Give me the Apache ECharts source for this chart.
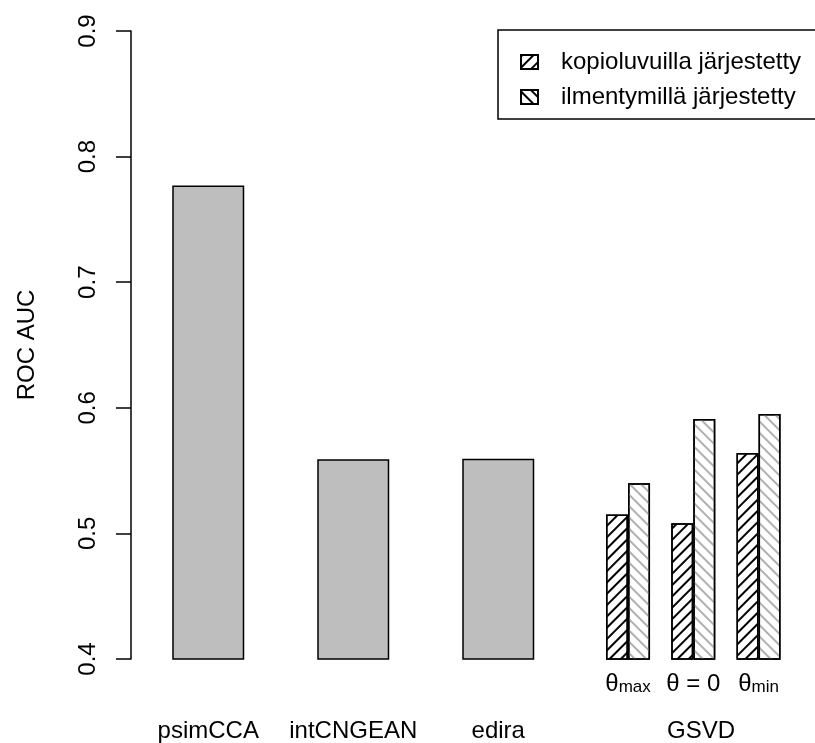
<!DOCTYPE html>
<html><head><meta charset="utf-8">
<script src="https://cdn.jsdelivr.net/npm/echarts@6/dist/echarts.min.js"></script>
<style>html,body{margin:0;padding:0;background:#fff}#c{width:815px;height:743px}</style>
</head><body><div id="c"></div>
<script>
// ---- data ----
const categories = ['psimCCA', 'intCNGEAN', 'edira'];
const values = [0.777, 0.559, 0.5595];
const gsvdGroups = ['max', '= 0', 'min'];
const gsvdCopy = [0.515, 0.508, 0.564];   // kopioluvuilla järjestetty
const gsvdExpr = [0.540, 0.591, 0.595];   // ilmentymillä järjestetty
const seriesNames = ['kopioluvuilla järjestetty', 'ilmentymillä järjestetty'];
const groupLabel = 'GSVD';
const yTicks = [0.4, 0.5, 0.6, 0.7, 0.8, 0.9];
const yTitle = 'ROC AUC';

// ---- layout (x positions in barplot units) ----
const mainPos = [1.5, 3.5, 5.5];
const gsvdCenters = [7.29, 8.19, 9.09];
const halfW = 0.152;
const gsvdLabelPos = 8.297;
const XMIN = 0.4345, XMAX = 9.869;

const FONT = "'Liberation Sans', Arial, sans-serif";
const chart = echarts.init(document.getElementById('c'));

const hatch = (color, rot) => ({
  symbol: 'rect', symbolSize: 1, color: color,
  dashArrayX: [1, 0], dashArrayY: [1.5, 6], rotation: rot
});
const hatchA = hatch('#000', -Math.PI / 4);
const hatchB = hatch('#b0b0b0', Math.PI / 4);

const mainLabelVals = mainPos.concat([gsvdLabelPos]);
const mainLabelTxt = categories.concat([groupLabel]);

chart.setOption({
  animation: false,
  textStyle: { fontFamily: FONT },
  grid: { left: 131, right: 0, top: 31, bottom: 83, containLabel: false },
  xAxis: [
    {
      type: 'value', min: XMIN, max: XMAX, position: 'bottom', offset: 0,
      axisLine: { show: false }, axisTick: { show: false }, splitLine: { show: false },
      axisLabel: {
        customValues: mainLabelVals, margin: 60,
        color: '#000', fontSize: 24, fontFamily: FONT,
        formatter: v => { const i = mainLabelVals.indexOf(v); return i >= 0 ? mainLabelTxt[i] : ''; }
      }
    },
    {
      type: 'value', min: XMIN, max: XMAX, position: 'bottom', offset: 0,
      axisLine: { show: false }, axisTick: { show: false }, splitLine: { show: false },
      axisLabel: {
        customValues: gsvdCenters, margin: 11,
        color: '#000', fontSize: 24, fontFamily: FONT,
        formatter: v => {
          const i = gsvdCenters.indexOf(v);
          if (i < 0) return '';
          if (i === 1) return '{t|θ} {t|' + gsvdGroups[i] + '}';
          return '{t|θ}{s|' + gsvdGroups[i] + '}';
        },
        rich: {
          t: { fontSize: 24, color: '#000', fontFamily: FONT, verticalAlign: 'bottom', lineHeight: 26 },
          s: { fontSize: 17, color: '#000', fontFamily: FONT, verticalAlign: 'bottom', lineHeight: 20 }
        }
      }
    }
  ],
  yAxis: {
    type: 'value', min: 0.4, max: 0.9, interval: 0.1,
    name: yTitle, nameLocation: 'middle', nameGap: 92,
    nameTextStyle: { color: '#000', fontSize: 24, fontFamily: FONT },
    axisLine: { show: true, lineStyle: { color: '#000', width: 1.5 } },
    axisTick: { show: true, length: 15, lineStyle: { color: '#000', width: 1.5 } },
    splitLine: { show: false },
    axisLabel: {
      rotate: 90, margin: 31, color: '#000', fontSize: 24, fontFamily: FONT,
      customValues: yTicks, formatter: v => String(Math.round(v * 10) / 10)
    }
  },
  legend: {
    orient: 'vertical', left: 498, top: 30,
    data: [
      { name: seriesNames[0], itemStyle: { decal: hatchA } },
      { name: seriesNames[1], itemStyle: { decal: hatch('#000', Math.PI / 4) } }
    ],
    icon: 'rect', itemWidth: 17, itemHeight: 14, itemGap: 11,
    padding: [20, 120, 10, 22],
    borderColor: '#000', borderWidth: 1.5, backgroundColor: '#fff',
    textStyle: { color: '#000', fontSize: 24, fontFamily: FONT, padding: [0, 0, 0, 18] },
    selectedMode: false
  },
  series: [
    {
      type: 'bar', name: 'main', xAxisIndex: 0, barWidth: 72, silent: true,
      data: mainPos.map((x, i) => [x, values[i]]),
      itemStyle: { color: '#bebebe', borderColor: '#000', borderWidth: 1.5 }
    },
    {
      type: 'bar', name: seriesNames[0], xAxisIndex: 1, barWidth: 22, barGap: '-100%', silent: true,
      data: gsvdCenters.map((c, i) => [c - halfW, gsvdCopy[i]]),
      itemStyle: { color: '#fff', borderColor: '#000', borderWidth: 1.5, decal: hatchA }
    },
    {
      type: 'bar', name: seriesNames[1], xAxisIndex: 1, barWidth: 22, barGap: '-100%', silent: true,
      data: gsvdCenters.map((c, i) => [c + halfW, gsvdExpr[i]]),
      itemStyle: { color: '#fff', borderColor: '#000', borderWidth: 1.5, decal: hatchB }
    }
  ]
});
</script>
</body></html>
